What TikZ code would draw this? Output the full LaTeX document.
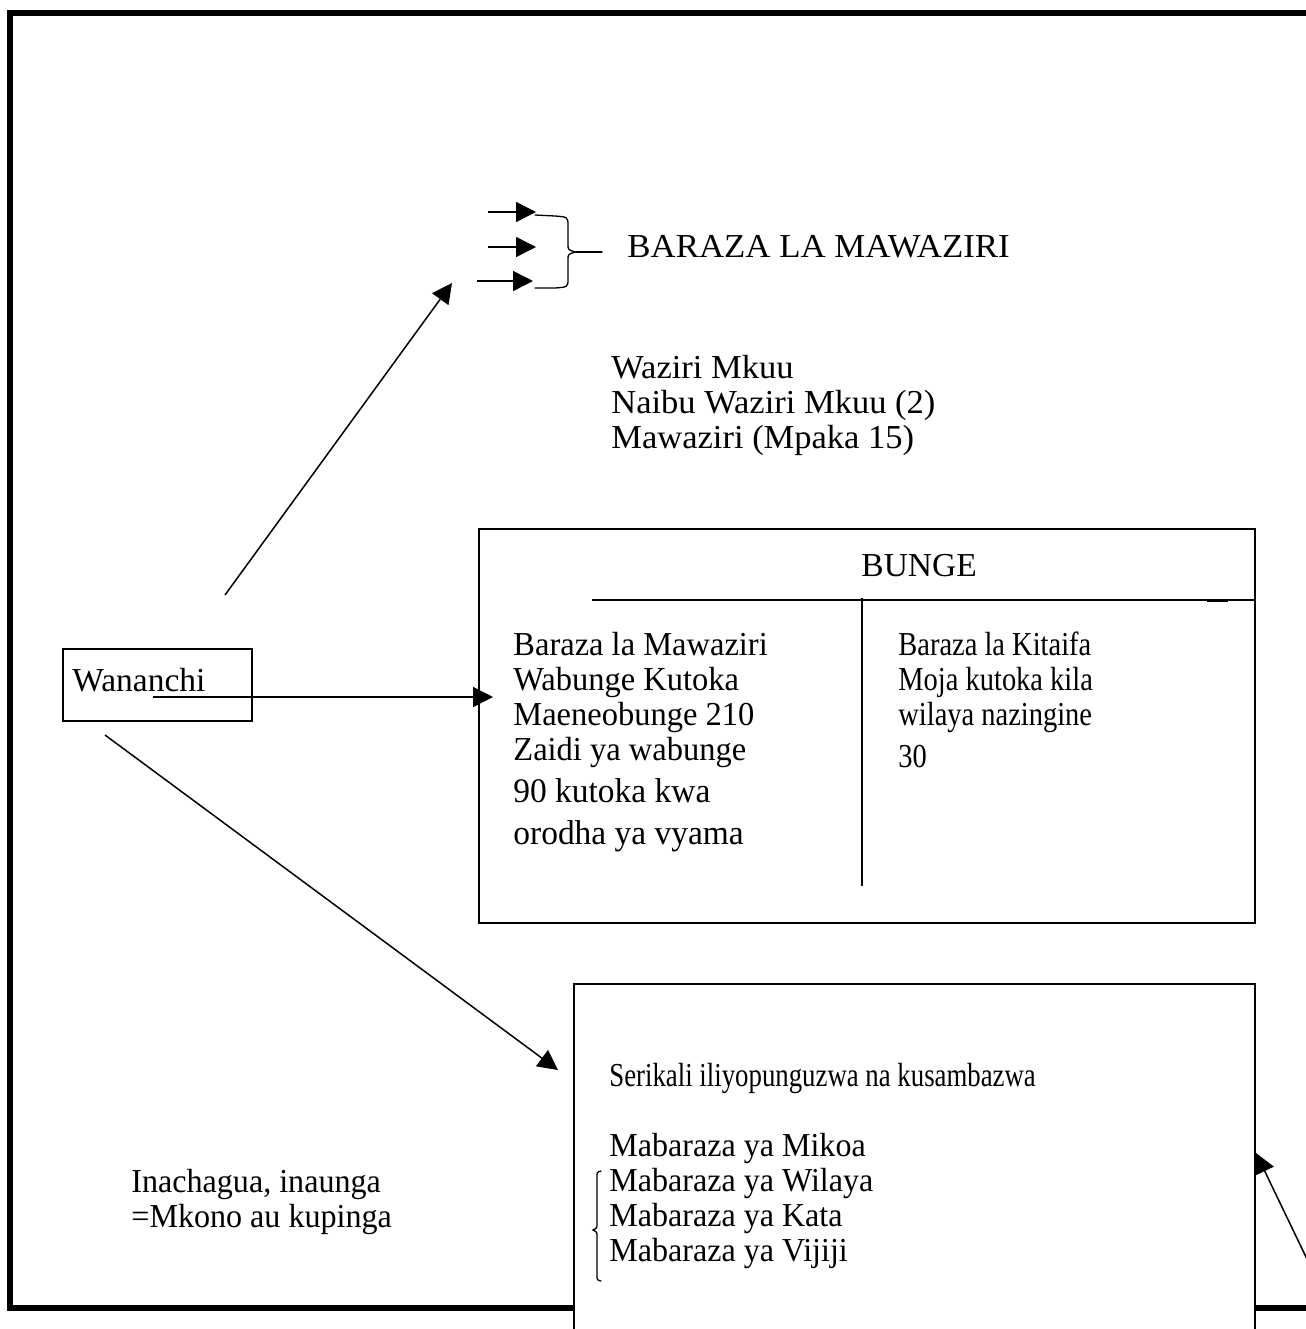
\documentclass[tikz,border=0pt]{standalone}
\usepackage{fontspec}
\setmainfont{Liberation Serif}
\usetikzlibrary{arrows.meta}
\begin{document}
\begin{tikzpicture}[x=0.5pt,y=-0.5pt,
  txt/.style={anchor=north west, inner sep=0pt, align=left, font=\fontsize{16.75}{17.5}\selectfont},
  cond/.style={font=\fontsize{16.75}{17.5}\selectfont\addfontfeatures{FakeStretch=#1}},
  box/.style={draw, line width=0.75pt, inner sep=0pt, anchor=north west},
  arr/.style={line width=0.75pt, -{Triangle[length=10pt,width=10pt]}},
  thin/.style={line width=0.75pt},
  brace/.style={line width=0.65pt, line cap=round},
]
\useasboundingbox (0,0) rectangle (1306,1329);
\begin{scope}
\clip (0,0) rectangle (1306,1329);
% outer frame
\draw[line width=3pt] (1340,13) -- (9.8,13) -- (9.8,1308.3) -- (1340,1308.3);

% boxes
\node[box, minimum width=388pt, minimum height=197pt] (bunge) at (478,528) {};
\node[box, minimum width=94.5pt, minimum height=36pt] (wananchibox) at (62,648) {};

% Bunge internal lines
\draw[thin] (592,600) -- (1254,600);
\draw[thin] (862,598) -- (862,886);
\draw[line width=1.5pt] (1207,600) -- (1228,600);

% texts
\node[txt, cond=1.04] (title) at (627,232.5) {\strut BARAZA LA MAWAZIRI};
\node[txt, cond=1.03] (mawaziri) at (611,353.5) {\strut Waziri Mkuu\\Naibu Waziri Mkuu (2)\\Mawaziri (Mpaka 15)};
\node[txt] (bungetitle) at (861,551.5) {\strut BUNGE};
\node[txt, cond=0.97] (bungeleft) at (513,630.5) {\strut Baraza la Mawaziri\\Wabunge Kutoka\\Maeneobunge 210\\Zaidi ya wabunge\\[3.5pt]{\fontsize{17.25}{17.5}\selectfont 90 kutoka kwa}\\[3.5pt]{\fontsize{17.25}{17.5}\selectfont orodha ya vyama}};
\node[txt, cond=0.85] (bungeright) at (898,630.5) {\strut Baraza la Kitaifa\\Moja kutoka kila\\wilaya nazingine\\[3.5pt]30};
\node[txt] (wananchi) at (72,666.5) {\strut Wananchi};
\node[txt, cond=0.958] (inachagua) at (131,1167.5) {\strut Inachagua, inaunga\\=Mkono au kupinga};

% arrows
\coordinate (upstart) at (225,595);
\coordinate (upend) at (452,283);
\draw[arr] (upstart) -- (upend);
\coordinate (hstart) at (153,697);
\coordinate (hend) at (493,697);
\draw[arr] (hstart) -- (hend);
\coordinate (dstart) at (105,735);
\coordinate (dend) at (558,1070);
\draw[arr] (dstart) -- (dend);

% three small arrows and brace
\coordinate (a1s) at (488,212); \coordinate (a1e) at (536,212);
\coordinate (a2s) at (488,247); \coordinate (a2e) at (536,247);
\coordinate (a3s) at (477,281); \coordinate (a3e) at (533,281);
\draw[arr] (a1s) -- (a1e);
\draw[arr] (a2s) -- (a2e);
\draw[arr] (a3s) -- (a3e);
\draw[brace] (535,215) -- (555,216) .. controls (568,217) .. (568,226) -- (568,244)
  .. controls (568,250) .. (576,252) .. controls (568,254) .. (568,260) -- (568,279)
  .. controls (568,287) .. (555,288) -- (535,288);
\draw[brace] (576,252) -- (602,252);

% bottom box (covers frame)
\node[box, fill=white, minimum width=340.5pt, minimum height=180pt] (serikali) at (573,983) {};
\node[txt, cond=0.80] (serikalitext) at (609,1061.5) {\strut Serikali iliyopunguzwa na kusambazwa};
\node[txt, cond=0.957] (mabaraza) at (609,1131.5) {\strut Mabaraza ya Mikoa\\Mabaraza ya Wilaya\\Mabaraza ya Kata\\Mabaraza ya Vijiji};
\draw[brace] (601,1171) .. controls (597,1172) .. (597,1178) -- (597,1223)
  .. controls (597,1228) .. (593,1230) .. controls (597,1232) .. (597,1237) -- (597,1275)
  .. controls (597,1280) .. (601,1281);

% arrow from lower right
\coordinate (rstart) at (1331,1309);
\coordinate (rend) at (1256,1153);
\draw[arr] (rstart) -- (rend);
\end{scope}
\end{tikzpicture}
\end{document}
